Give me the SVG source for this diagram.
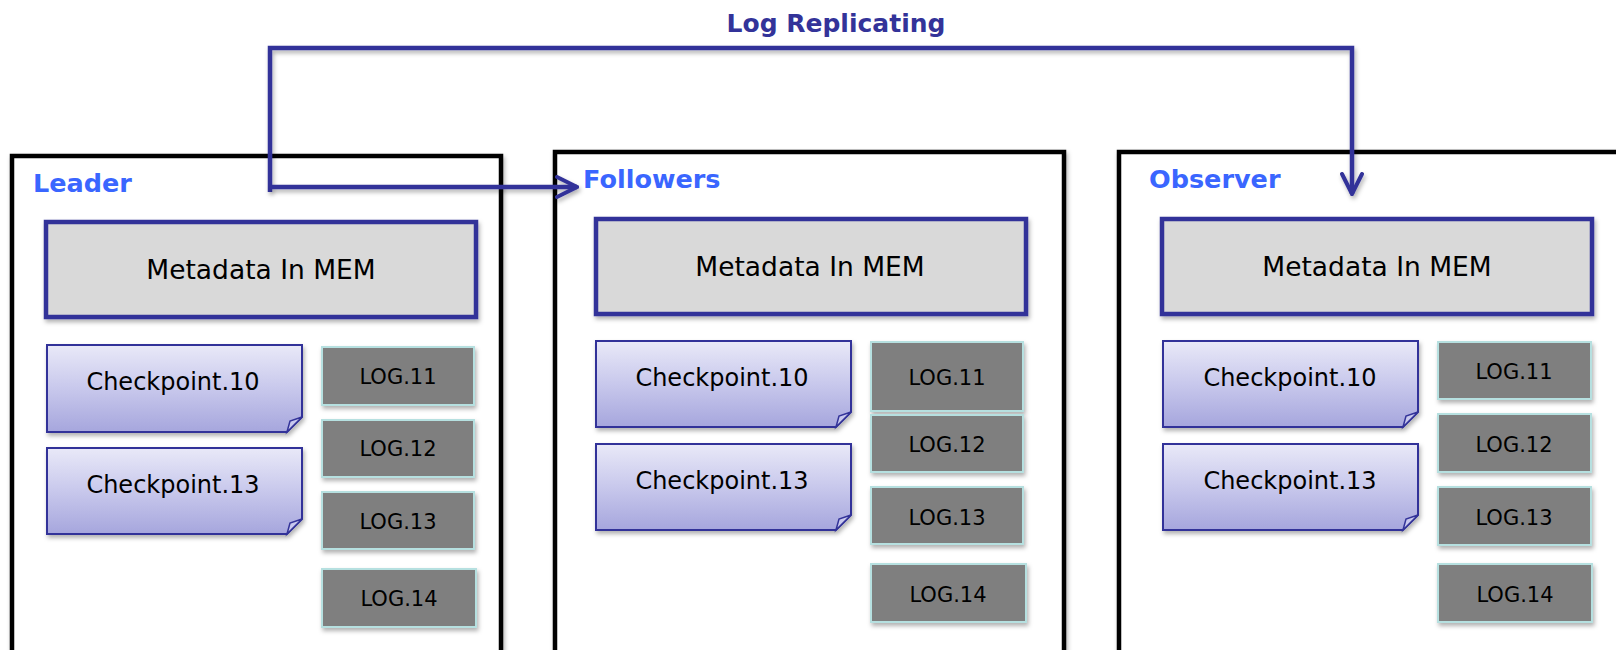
<svg xmlns="http://www.w3.org/2000/svg" width="1616" height="650" viewBox="0 0 1616 650">
<defs>
<style>
.frame{fill:#fff;stroke:#000;stroke-width:4.5}
.role{font-family:"DejaVu Sans",Verdana,sans-serif;font-weight:bold;font-size:25.5px;fill:#3A66FF}
.meta rect{fill:#d9d9d9;stroke:#333399;stroke-width:4.5}
.meta text{font-family:"DejaVu Sans",Verdana,sans-serif;font-size:26.5px;fill:#000;text-anchor:middle}
.cp path.body{fill:url(#cpg);stroke:#333399;stroke-width:2}
.cp path.fold{fill:#c8c8ee;stroke:#333399;stroke-width:1.5}
.cp text{font-family:"DejaVu Sans",Verdana,sans-serif;font-size:24px;fill:#000;text-anchor:middle}
.log rect{fill:#7f7f7f;stroke:#b6e0e0;stroke-width:2}
.log text{font-family:"DejaVu Sans",Verdana,sans-serif;font-size:21px;fill:#000;text-anchor:middle}
.conn{fill:none;stroke:#333399;stroke-width:4.5}
.title{font-family:"DejaVu Sans",Verdana,sans-serif;font-weight:bold;font-size:25px;fill:#333399;text-anchor:middle}
</style>
<linearGradient id="cpg" x1="0" y1="0" x2="0" y2="1">
<stop offset="0" stop-color="#e9e9f8"/>
<stop offset="0.5" stop-color="#c8c8ec"/>
<stop offset="1" stop-color="#a6a6dd"/>
</linearGradient>
<filter id="sh" x="-10%" y="-10%" width="130%" height="130%">
<feDropShadow dx="1.5" dy="3" stdDeviation="2" flood-color="#000" flood-opacity="0.3"/>
</filter>
<filter id="shc" filterUnits="userSpaceOnUse" x="0" y="0" width="1616" height="650">
<feDropShadow dx="1.5" dy="3" stdDeviation="2" flood-color="#000" flood-opacity="0.3"/>
</filter>
<marker id="chev2" viewBox="0 0 24 24" refX="22" refY="12" markerWidth="24" markerHeight="24" markerUnits="userSpaceOnUse" orient="auto">
<path d="M2,2 L22,12 L2,22" fill="none" stroke="#333399" stroke-width="4" stroke-linecap="round"/>
</marker>
</defs>

<g id="leader">
<rect class="frame" x="12" y="156" width="489" height="510" filter="url(#sh)"/>
<text class="role" x="33" y="192">Leader</text>
<g class="meta" id="leader-meta"><rect x="46" y="222" width="430" height="95" filter="url(#sh)"/><text x="261" y="279">Metadata In MEM</text></g>
<g class="cp" id="leader-cp10"><path class="body" filter="url(#sh)" d="M47,345 H302 V417 L287,432 H47 Z"/><path class="fold" d="M287,432 L290,421 L302,417 Z"/><text x="173" y="390">Checkpoint.10</text></g>
<g class="cp" id="leader-cp13"><path class="body" filter="url(#sh)" d="M47,448 H302 V519 L287,534 H47 Z"/><path class="fold" d="M287,534 L290,523 L302,519 Z"/><text x="173" y="493">Checkpoint.13</text></g>
<g class="log" id="leader-log11"><rect x="322" y="347" width="152" height="58" filter="url(#sh)"/><text x="398" y="384">LOG.11</text></g>
<g class="log" id="leader-log12"><rect x="322" y="420" width="152" height="57" filter="url(#sh)"/><text x="398" y="456">LOG.12</text></g>
<g class="log" id="leader-log13"><rect x="322" y="492" width="152" height="57" filter="url(#sh)"/><text x="398" y="529">LOG.13</text></g>
<g class="log" id="leader-log14"><rect x="322" y="569" width="154" height="58" filter="url(#sh)"/><text x="399" y="606">LOG.14</text></g>
</g>

<g id="followers">
<rect class="frame" x="555" y="152" width="509" height="510" filter="url(#sh)"/>
<text class="role" x="583" y="188">Followers</text>
<g class="meta" id="followers-meta"><rect x="596" y="219" width="430" height="95" filter="url(#sh)"/><text x="810" y="276">Metadata In MEM</text></g>
<g class="cp" id="followers-cp10"><path class="body" filter="url(#sh)" d="M596,341 H851 V412 L836,427 H596 Z"/><path class="fold" d="M836,427 L839,416 L851,412 Z"/><text x="722" y="386">Checkpoint.10</text></g>
<g class="cp" id="followers-cp13"><path class="body" filter="url(#sh)" d="M596,444 H851 V515 L836,530 H596 Z"/><path class="fold" d="M836,530 L839,519 L851,515 Z"/><text x="722" y="489">Checkpoint.13</text></g>
<g class="log" id="followers-log11"><rect x="871" y="342" width="152" height="69" filter="url(#sh)"/><text x="947" y="385">LOG.11</text></g>
<g class="log" id="followers-log12"><rect x="871" y="415" width="152" height="57" filter="url(#sh)"/><text x="947" y="452">LOG.12</text></g>
<g class="log" id="followers-log13"><rect x="871" y="487" width="152" height="57" filter="url(#sh)"/><text x="947" y="525">LOG.13</text></g>
<g class="log" id="followers-log14"><rect x="871" y="564" width="155" height="58" filter="url(#sh)"/><text x="948" y="602">LOG.14</text></g>
</g>

<g id="observer">
<rect class="frame" x="1119" y="152" width="520" height="510" filter="url(#sh)"/>
<text class="role" x="1149" y="188">Observer</text>
<g class="meta" id="observer-meta"><rect x="1162" y="219" width="430" height="95" filter="url(#sh)"/><text x="1377" y="276">Metadata In MEM</text></g>
<g class="cp" id="observer-cp10"><path class="body" filter="url(#sh)" d="M1163,341 H1418 V412 L1403,427 H1163 Z"/><path class="fold" d="M1403,427 L1406,416 L1418,412 Z"/><text x="1290" y="386">Checkpoint.10</text></g>
<g class="cp" id="observer-cp13"><path class="body" filter="url(#sh)" d="M1163,444 H1418 V515 L1403,530 H1163 Z"/><path class="fold" d="M1403,530 L1406,519 L1418,515 Z"/><text x="1290" y="489">Checkpoint.13</text></g>
<g class="log" id="observer-log11"><rect x="1438" y="342" width="153" height="57" filter="url(#sh)"/><text x="1514" y="379">LOG.11</text></g>
<g class="log" id="observer-log12"><rect x="1438" y="414" width="153" height="58" filter="url(#sh)"/><text x="1514" y="452">LOG.12</text></g>
<g class="log" id="observer-log13"><rect x="1438" y="487" width="153" height="58" filter="url(#sh)"/><text x="1514" y="525">LOG.13</text></g>
<g class="log" id="observer-log14"><rect x="1438" y="564" width="154" height="58" filter="url(#sh)"/><text x="1515" y="602">LOG.14</text></g>
</g>

<g id="connectors">
<path class="conn" filter="url(#shc)" d="M270,192 V48 H1352 V194" marker-end="url(#chev2)"/>
<path class="conn" filter="url(#shc)" d="M270,187 H577" marker-end="url(#chev2)"/>
<text class="title" x="836" y="32">Log Replicating</text>
</g>
</svg>
